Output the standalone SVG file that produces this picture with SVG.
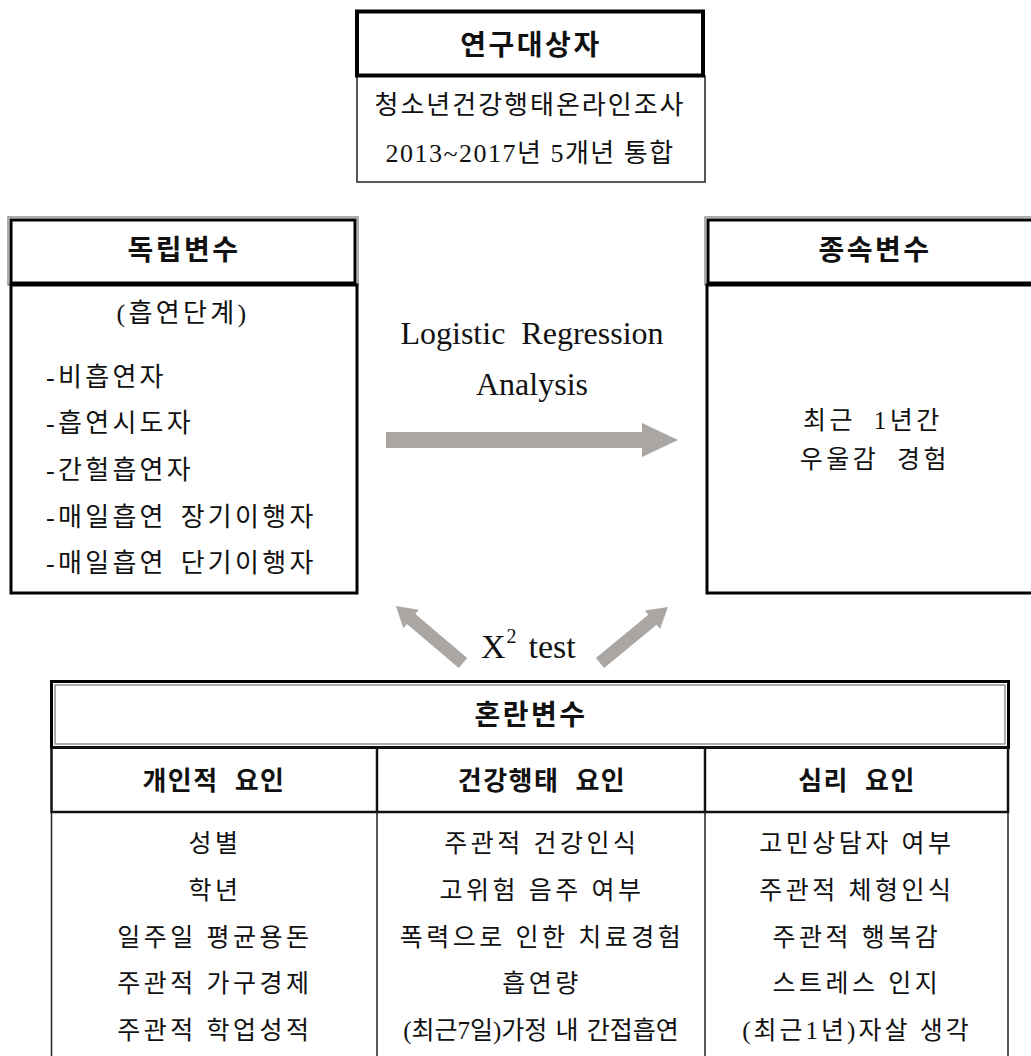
<svg xmlns="http://www.w3.org/2000/svg" width="1031" height="1056" viewBox="0 0 1031 1056">
<style>
text{font-family:'Liberation Serif','Noto Sans CJK KR',serif;fill:#111;}
.b{font-size:25px;letter-spacing:3.5px;}
.l{font-size:26px;letter-spacing:3.3px;word-spacing:4px;}
.h{font-size:28px;font-weight:bold;letter-spacing:2.5px;}
.sh{font-size:26px;font-weight:bold;letter-spacing:1.5px;word-spacing:8px;}
.c{text-anchor:middle;}
.en{font-size:32px;}
.thick{fill:none;stroke:#000;stroke-width:3;}
.thin{fill:none;stroke:#777;stroke-width:1.2;}
.body{fill:none;stroke:#222;stroke-width:1.5;}
.arr{fill:#aaa6a4;}
</style>
<defs>
<path id="diag" d="M0,-6.5 H68 V-12 L88,0 L68,12 V6.5 H0 Z"/>
</defs>
<rect width="1031" height="1056" fill="#fff"/>

<g id="subjects">
<rect x="357" y="76" width="348" height="106" class="body"/>
<rect x="357" y="11.5" width="346" height="64" fill="none" stroke="#000" stroke-width="4"/>
<text x="531" y="55" class="h c">연구대상자</text>
<text x="530" y="114" class="c" font-size="26" letter-spacing="2">청소년건강행태온라인조사</text>
<text x="530" y="162" class="c" font-size="26" letter-spacing="1.5">2013~2017년 5개년 통합</text>
</g>

<g id="independent">
<rect x="8" y="217" width="350" height="68" class="thin"/>
<rect x="11" y="220" width="344" height="63" class="thick"/>
<rect x="11" y="285" width="346" height="308" class="thick"/>
<text x="184" y="260" class="h c">독립변수</text>
<text x="183" y="322" class="l c">(흡연단계)</text>
<text x="46" y="386" class="l">-비흡연자</text>
<text x="46" y="432" class="l">-흡연시도자</text>
<text x="46" y="479" class="l">-간헐흡연자</text>
<text x="46" y="526" class="l">-매일흡연 장기이행자</text>
<text x="46" y="572" class="l">-매일흡연 단기이행자</text>
</g>

<g id="dependent">
<rect x="705" y="217" width="340" height="68" class="thin"/>
<rect x="708" y="220" width="340" height="63" class="thick"/>
<rect x="707" y="285" width="340" height="308" class="thick"/>
<text x="875" y="260" class="h c">종속변수</text>
<text x="873" y="429" class="b c" word-spacing="8">최근 1년간</text>
<text x="875" y="468" class="b c" word-spacing="8">우울감 경험</text>
</g>

<g id="connectors">
<rect x="386" y="432" width="257" height="16" class="arr"/>
<polygon points="642,423 678,440 642,457" class="arr"/>
<use href="#diag" class="arr" transform="translate(463,663) rotate(220.3)"/>
<use href="#diag" class="arr" transform="translate(600,663) rotate(-39.5)"/>
<text x="532" y="344" class="en c" xml:space="preserve">Logistic  Regression</text>
<text x="532" y="395" class="en c">Analysis</text>
<text x="481" y="658" font-size="34">X<tspan font-size="20" dy="-15" dx="1">2</tspan><tspan dx="12" dy="15">test</tspan></text>
</g>

<g id="confounders">
<rect x="51.5" y="681.5" width="957" height="66" class="thick"/>
<rect x="55" y="685" width="950" height="59" class="thin"/>
<rect x="51.5" y="747.5" width="956.5" height="64.5" fill="none" stroke="#111" stroke-width="2.5"/>
<line x1="377" y1="748" x2="377" y2="812" stroke="#111" stroke-width="2.5"/>
<line x1="705" y1="748" x2="705" y2="812" stroke="#111" stroke-width="2.5"/>
<line x1="51.5" y1="812" x2="51.5" y2="1056" class="body"/>
<line x1="377" y1="812" x2="377" y2="1056" class="body"/>
<line x1="705" y1="812" x2="705" y2="1056" class="body"/>
<line x1="1008" y1="812" x2="1008" y2="1056" class="body"/>
<text x="531" y="725" class="h c">혼란변수</text>
<text x="214" y="790" class="sh c">개인적 요인</text>
<text x="542" y="790" class="sh c">건강행태 요인</text>
<text x="857" y="790" class="sh c">심리 요인</text>
<g class="b c">
<text x="215" y="852">성별</text>
<text x="215" y="899">학년</text>
<text x="215" y="946">일주일 평균용돈</text>
<text x="215" y="992">주관적 가구경제</text>
<text x="215" y="1039">주관적 학업성적</text>
<text x="542" y="852">주관적 건강인식</text>
<text x="542" y="899">고위험 음주 여부</text>
<text x="542" y="946">폭력으로 인한 치료경험</text>
<text x="542" y="992">흡연량</text>
<text x="541" y="1039" letter-spacing="0" word-spacing="2">(최근7일)가정 내 간접흡연</text>
<text x="857" y="852">고민상담자 여부</text>
<text x="857" y="899">주관적 체형인식</text>
<text x="857" y="946">주관적 행복감</text>
<text x="857" y="992">스트레스 인지</text>
<text x="857" y="1039" letter-spacing="3">(최근1년)자살 생각</text>
</g>
</g>
</svg>
